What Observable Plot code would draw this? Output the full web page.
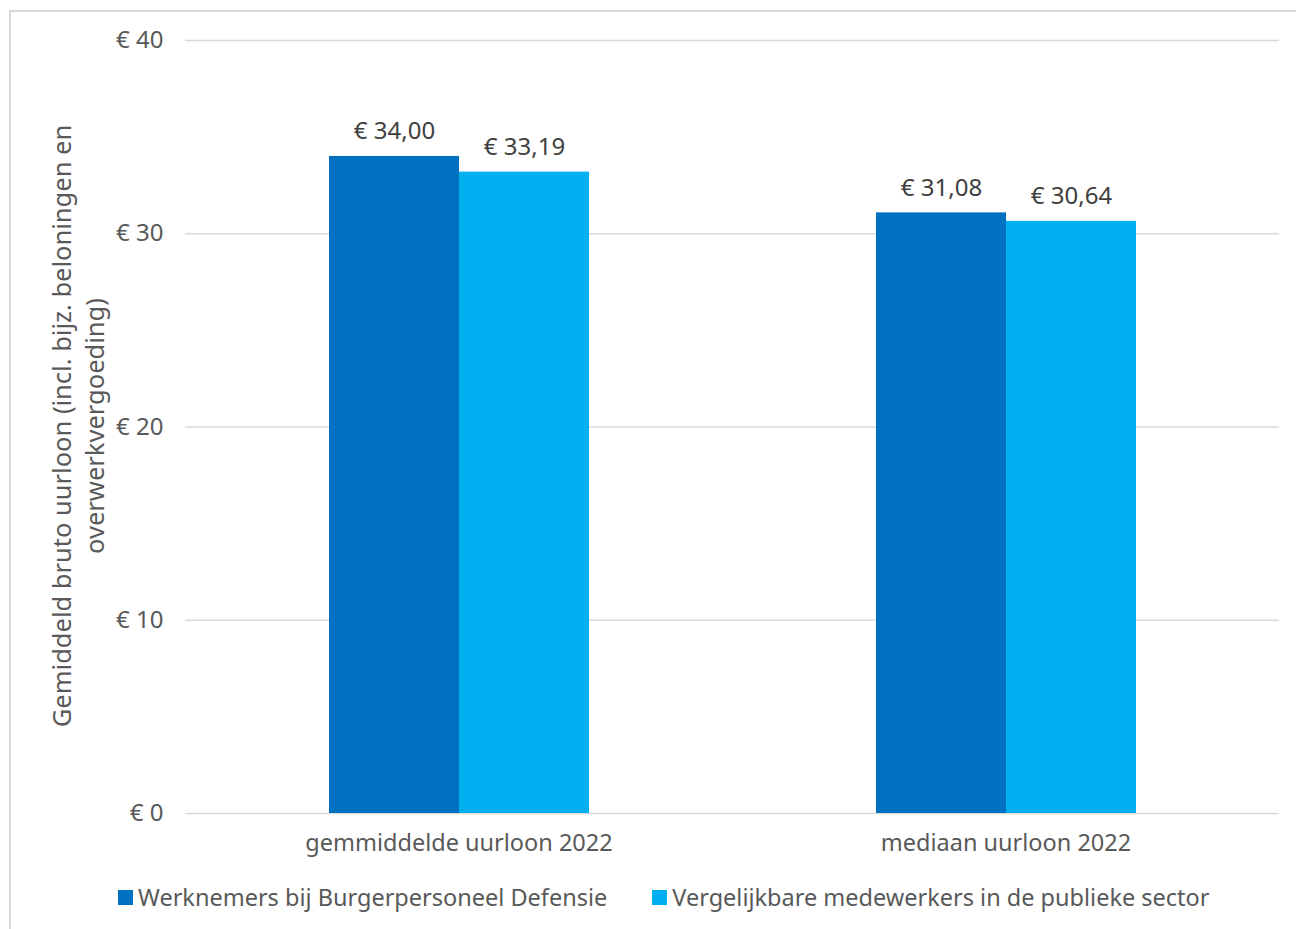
<!DOCTYPE html>
<html>
<head>
<meta charset="utf-8">
<script src="https://cdn.jsdelivr.net/npm/d3@7"></script>
<script src="https://cdn.jsdelivr.net/npm/@observablehq/plot@0.6"></script>
<style>
  html, body { margin: 0; padding: 0; background: #fff; overflow: hidden; }
  body { width: 1296px; height: 929px; position: relative; font-family: "Noto Sans", "Open Sans", sans-serif; }
  #frame { position: absolute; left: 9px; top: 10px; width: 1400px; height: 1000px; border: 2px solid #d9d9d9; box-sizing: border-box; }
  #chart { position: absolute; left: 0; top: 0; }
  #ylabel { position: absolute; left: 78px; top: 426px; width: 900px; transform: translate(-50%, -50%) rotate(-90deg);
            text-align: center; font-size: 25.5px; line-height: 33px; color: #595959; white-space: nowrap; }
  #legend { position: absolute; left: 118px; top: 881px; display: flex; align-items: center; font-size: 23.5px; color: #595959; }
  .item { display: flex; align-items: center; margin-right: 45px; }
  .sw { width: 15px; height: 15px; margin-right: 5px; }
</style>
</head>
<body>
<div id="frame"></div>
<div id="chart"></div>
<div id="ylabel">Gemiddeld bruto uurloon (incl. bijz. beloningen en<br>overwerkvergoeding)</div>
<div id="legend"></div>
<script>
const categories = ["gemmiddelde uurloon 2022", "mediaan uurloon 2022"];
const series = ["Werknemers bij Burgerpersoneel Defensie", "Vergelijkbare medewerkers in de publieke sector"];
const defensie = [34.00, 31.08];
const publiek = [33.19, 30.64];
const colors = ["#0070C0", "#00B0F0"];
const yTicks = [0, 10, 20, 30, 40];

const data = categories.flatMap((c, i) => [
  {cat: c, series: series[0], value: defensie[i]},
  {cat: c, series: series[1], value: publiek[i]}
]);

const euro = v => "€ " + v.toFixed(2).replace(".", ",");

const chart = Plot.plot({
  width: 1296,
  height: 863,
  marginLeft: 185,
  marginRight: 17,
  marginTop: 40,
  marginBottom: 50,
  style: {fontFamily: '"Noto Sans", "Open Sans", sans-serif', fontSize: "22px", color: "#595959", background: "transparent"},
  fx: {domain: categories, padding: 0, axis: null},
  x: {domain: series, axis: null, paddingInner: 0, paddingOuter: 1.096},
  y: {domain: [0, 40], axis: null},
  color: {domain: series, range: colors},
  marks: [
    Plot.gridY(yTicks, {stroke: "#d9d9d9", strokeOpacity: 1, strokeWidth: 1.5}),
    Plot.axisY(yTicks, {tickSize: 0, tickPadding: 22, tickFormat: d => "€ " + d, label: null, fontSize: 24, fill: "#595959"}),
    Plot.barY(data, {fx: "cat", x: "series", y: "value", fill: "series"}),
    Plot.text(data, {fx: "cat", x: "series", y: "value", text: d => euro(d.value), dy: -25, fontSize: 24, fill: "#404040"}),
    Plot.axisFx({anchor: "bottom", tickSize: 0, tickPadding: 21, label: null, fontSize: 23.5, fill: "#595959"})
  ]
});
document.getElementById("chart").appendChild(chart);

const legend = document.getElementById("legend");
series.forEach((s, i) => {
  const item = document.createElement("div");
  item.className = "item";
  const sw = document.createElement("div");
  sw.className = "sw";
  sw.style.background = colors[i];
  const t = document.createElement("span");
  t.textContent = s;
  item.appendChild(sw);
  item.appendChild(t);
  legend.appendChild(item);
});
</script>
</body>
</html>
